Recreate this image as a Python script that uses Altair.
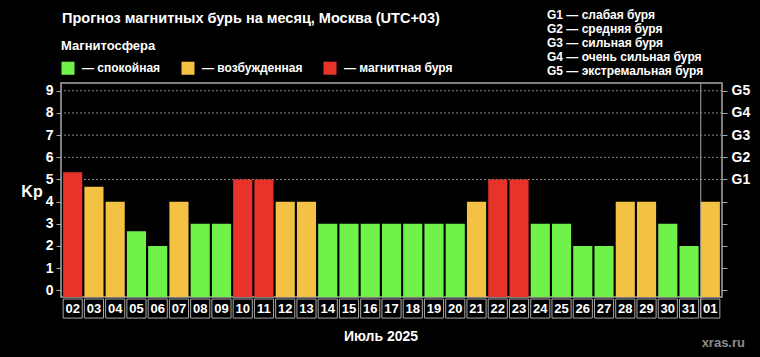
import altair as alt
import pandas as pd

days = ["02", "03", "04", "05", "06", "07", "08", "09", "10", "11", "12", "13", "14", "15", "16",
        "17", "18", "19", "20", "21", "22", "23", "24", "25", "26", "27", "28", "29", "30", "31", "01"]
kp = [5.33, 4.67, 4, 2.67, 2, 4, 3, 3, 5, 5, 4, 4, 3, 3, 3,
      3, 3, 3, 3, 4, 5, 5, 3, 3, 2, 2, 4, 4, 3, 2, 4]
status = ["магнитная буря", "возбужденная", "возбужденная", "спокойная", "спокойная", "возбужденная",
          "спокойная", "спокойная", "магнитная буря", "магнитная буря", "возбужденная", "возбужденная",
          "спокойная", "спокойная", "спокойная", "спокойная", "спокойная", "спокойная", "спокойная",
          "возбужденная", "магнитная буря", "магнитная буря", "спокойная", "спокойная", "спокойная",
          "спокойная", "возбужденная", "возбужденная", "спокойная", "спокойная", "возбужденная"]
status_names = ["спокойная", "возбужденная", "магнитная буря"]
status_colors = ["#70f24a", "#f3c143", "#e8332a"]
g_levels = [5, 6, 7, 8, 9]
g_legend = ["G1 — слабая буря", "G2 — средняя буря", "G3 — сильная буря",
            "G4 — очень сильная буря", "G5 — экстремальная буря"]
title = "Прогноз магнитных бурь на месяц, Москва (UTC+03)"
x_title = "Июль 2025"
source = "xras.ru"
month_start = "01"

FONT = "Liberation Sans"
Y_MIN, Y_MAX = -0.3, 9.35
BOX_TOP, BOX_BOT = -0.39, -1.25
GREY = "#a8a8a8"

df = pd.DataFrame({"day": days, "kp": kp, "status": status})

yscale = alt.Scale(domain=[Y_MIN, Y_MAX], nice=False, zero=False)
xscale = alt.Scale(paddingInner=0.1, paddingOuter=0.1)
xaxis = alt.Axis(labels=False, ticks=False, domain=False, title=x_title,
                 titleX=319.5, titleY=39, titleAlign="center", titleBaseline="middle",
                 titleFont=FONT, titleFontSize=14, titleFontWeight="bold", titleColor="white")
xenc = alt.X("day:N", sort=days, scale=xscale, axis=xaxis)


def ydat(v):
    return alt.YDatum(datum=v, scale=yscale, axis=None)


grid = alt.Chart(pd.DataFrame({"g": g_levels})).mark_rule(
    color="#8a8a8a", strokeDash=[2, 2], strokeWidth=1
).encode(
    y=alt.Y("g:Q", scale=yscale,
            axis=alt.Axis(orient="right", values=list(range(10)),
                          labelExpr="datum.value >= 5 ? 'G' + (datum.value - 4) : ''",
                          title=None, domain=False, grid=False, tickColor=GREY, tickSize=5,
                          labelFont=FONT, labelFontSize=14, labelFontWeight="bold",
                          labelColor="white", labelPadding=4))
)

bars = alt.Chart(df).mark_bar().encode(
    x=xenc,
    y=alt.Y("kp:Q", scale=yscale,
            axis=alt.Axis(orient="left", values=list(range(10)), grid=False, domain=False,
                          tickColor=GREY, tickSize=5, labelFont=FONT, labelFontSize=14,
                          labelFontWeight="bold", labelColor="white", labelPadding=3,
                          title="Kp", titleAngle=0, titleX=-29.5, titleY=108,
                          titleAlign="center", titleBaseline="middle", titleFont=FONT,
                          titleFontSize=16, titleFontWeight="bold", titleColor="white")),
    y2=alt.Y2Datum(datum=Y_MIN),
    color=alt.Color("status:N",
                    scale=alt.Scale(domain=status_names, range=status_colors),
                    legend=alt.Legend(title="Магнитосфера", orient="none", legendX=0, legendY=-43,
                                      direction="horizontal", symbolType="square",
                                      symbolSize=170, symbolStrokeWidth=0, symbolOpacity=1,
                                      labelExpr="'— ' + datum.label",
                                      labelFont=FONT, labelFontSize=12, labelFontWeight="bold",
                                      labelColor="white", labelOffset=7, columnPadding=20,
                                      titleFont=FONT, titleFontSize=13, titleFontWeight="bold",
                                      titleColor="white", titlePadding=8)),
)

boxes = alt.Chart(df).mark_rect(fill="black", stroke=GREY, strokeWidth=1).encode(
    x=xenc, y=ydat(BOX_TOP), y2=alt.Y2Datum(datum=BOX_BOT)
)
box_text = alt.Chart(df).mark_text(
    font=FONT, fontSize=13, fontWeight="bold", color="white", baseline="middle"
).encode(x=xenc, y=ydat((BOX_TOP + BOX_BOT) / 2), text="day:N")

sep = alt.Chart(pd.DataFrame({"day": [month_start]})).mark_rule(
    color=GREY, strokeWidth=1
).encode(
    x=alt.X("day:N", sort=days, bandPosition=0, scale=xscale, axis=xaxis),
    y=ydat(Y_MAX), y2=alt.Y2Datum(datum=BOX_BOT)
)

title_txt = alt.Chart(pd.DataFrame({"t": [title]})).mark_text(
    font=FONT, fontSize=14.5, fontWeight="bold", color="white", align="left", baseline="middle"
).encode(x=alt.value(1), y=alt.value(-64), text="t:N")

g_txt = alt.Chart(pd.DataFrame({"t": ["\n".join(g_legend)]})).mark_text(
    font=FONT, fontSize=12, fontWeight="bold", color="white", align="left", baseline="top",
    lineBreak="\n", lineHeight=14
).encode(x=alt.value(486), y=alt.value(-73), text="t:N")

src_txt = alt.Chart(pd.DataFrame({"t": [source]})).mark_text(
    font=FONT, fontSize=13, fontWeight="bold", color="#8c8c8c", align="right", baseline="middle"
).encode(x=alt.value(684), y=alt.value(260), text="t:N")

chart = alt.layer(grid, bars, boxes, box_text, sep, title_txt, g_txt, src_txt).resolve_axis(
    y="independent"
).properties(
    width=661, height=214,
    background="black",
    padding={"left": 61, "top": 83, "right": 38, "bottom": 60},
    autosize=alt.AutoSizeParams(type="none"),
).configure_view(stroke=GREY, strokeWidth=1.5)

chart.save("out.html", embed_options={"renderer": "svg", "actions": False})
